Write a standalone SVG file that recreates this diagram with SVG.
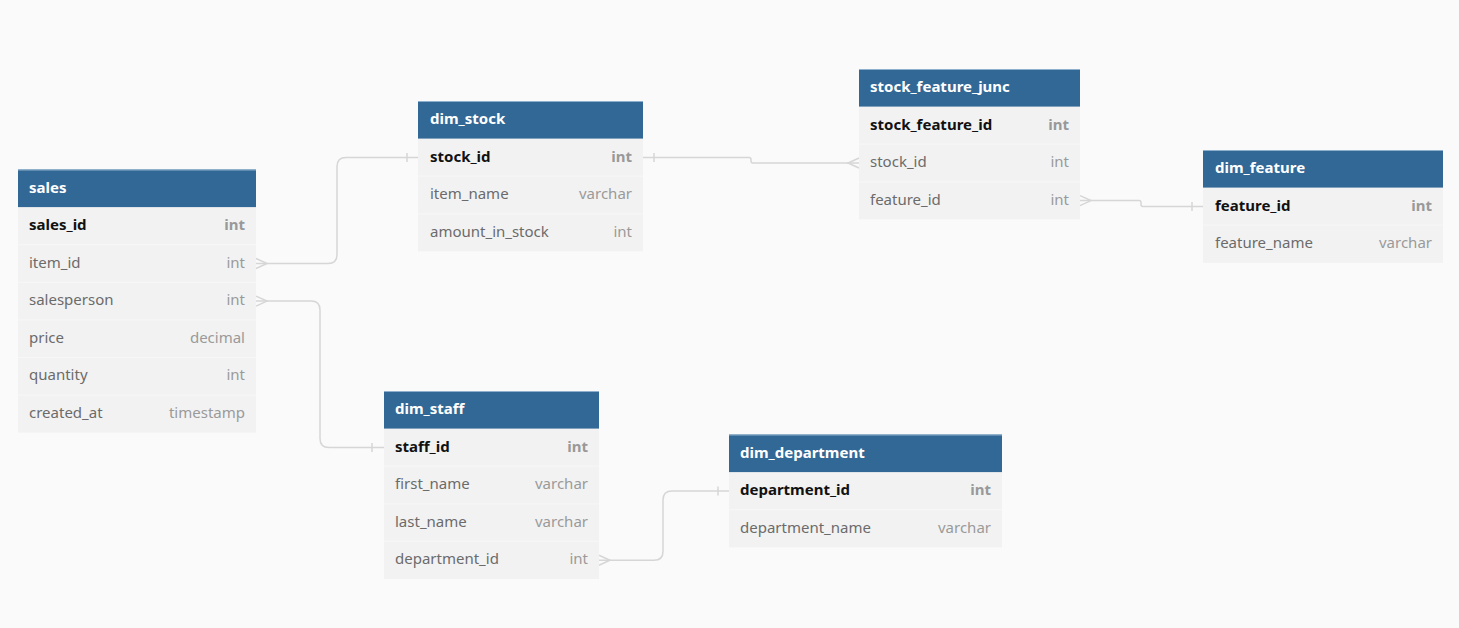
<svg xmlns="http://www.w3.org/2000/svg" width="1459" height="628" viewBox="0 0 1459 628">
<style>
text{font-family:"Noto Sans","Open Sans","DejaVu Sans",sans-serif;font-size:15px}
.hdr{fill:#326896}
.hline{stroke:#8fb0cc;stroke-width:1}
.row{fill:#f2f2f2}
.sep{stroke:#f7f7f7;stroke-width:1}
.title{fill:#ffffff;font-weight:bold}
.pk{fill:#111111;font-weight:bold}
.pkt{fill:#999999;font-weight:bold;text-anchor:end}
.col{fill:#6b6b6b}
.typ{fill:#9a9a9a;text-anchor:end}
.conn{fill:none;stroke:#d6d6d6;stroke-width:1.5}
</style>
<rect width="1459" height="628" fill="#fafafa"/>

<g id="connectors" class="conn">
  <path d="M256,263.5 H328 Q337,263.5 337,254.5 V166.4 Q337,157.4 346,157.4 H418"/>
  <path d="M256,258.5 L267,263.5 L256,268.5"/>
  <path d="M407,153 V162"/>

  <path d="M643,157.4 H749 Q751,157.4 751,159.4 V161 Q751,163 753,163 H859"/>
  <path d="M654,153 V162"/>
  <path d="M859,158 L848,163 L859,168"/>

  <path d="M1080,200.6 H1139 Q1141,200.6 1141,202.6 V204.4 Q1141,206.4 1143,206.4 H1203"/>
  <path d="M1080,195.6 L1091,200.6 L1080,205.6"/>
  <path d="M1192,202 V211"/>

  <path d="M256,301.1 H311 Q320,301.1 320,310.1 V438.4 Q320,447.4 329,447.4 H384"/>
  <path d="M256,296.1 L267,301.1 L256,306.1"/>
  <path d="M372,443 V452"/>

  <path d="M599,560.2 H654 Q663,560.2 663,551.2 V499.9 Q663,490.9 672,490.9 H729"/>
  <path d="M599,555.2 L610,560.2 L599,565.2"/>
  <path d="M718,486.5 V495.5"/>
</g>

<g id="sales">
  <rect class="row" x="18" y="207.1" width="238" height="225.6"/>
  <rect class="hdr" x="18" y="169.5" width="238" height="37.6"/>
  <line class="hline" x1="18" y1="170" x2="256" y2="170"/>
  <line class="sep" x1="18" y1="244.7" x2="256" y2="244.7"/>
  <line class="sep" x1="18" y1="282.3" x2="256" y2="282.3"/>
  <line class="sep" x1="18" y1="319.9" x2="256" y2="319.9"/>
  <line class="sep" x1="18" y1="357.5" x2="256" y2="357.5"/>
  <line class="sep" x1="18" y1="395.1" x2="256" y2="395.1"/>
  <text class="title" x="29" y="192.5">sales</text>
  <text class="pk" x="29" y="230">sales_id</text><text class="pkt" x="245" y="230">int</text>
  <text class="col" x="29" y="267.6">item_id</text><text class="typ" x="245" y="267.6">int</text>
  <text class="col" x="29" y="305.2">salesperson</text><text class="typ" x="245" y="305.2">int</text>
  <text class="col" x="29" y="342.8">price</text><text class="typ" x="245" y="342.8">decimal</text>
  <text class="col" x="29" y="380.4">quantity</text><text class="typ" x="245" y="380.4">int</text>
  <text class="col" x="29" y="418">created_at</text><text class="typ" x="245" y="418">timestamp</text>
</g>

<g id="dim_stock">
  <rect class="row" x="418" y="138.6" width="225" height="112.8"/>
  <rect class="hdr" x="418" y="101" width="225" height="37.6"/>
  <line class="hline" x1="418" y1="101.5" x2="643" y2="101.5"/>
  <line class="sep" x1="418" y1="176.2" x2="643" y2="176.2"/>
  <line class="sep" x1="418" y1="213.8" x2="643" y2="213.8"/>
  <text class="title" x="430" y="124">dim_stock</text>
  <text class="pk" x="430" y="161.5">stock_id</text><text class="pkt" x="632" y="161.5">int</text>
  <text class="col" x="430" y="199.1">item_name</text><text class="typ" x="632" y="199.1">varchar</text>
  <text class="col" x="430" y="236.7">amount_in_stock</text><text class="typ" x="632" y="236.7">int</text>
</g>

<g id="stock_feature_junc">
  <rect class="row" x="859" y="106.6" width="221" height="112.8"/>
  <rect class="hdr" x="859" y="69" width="221" height="37.6"/>
  <line class="hline" x1="859" y1="69.5" x2="1080" y2="69.5"/>
  <line class="sep" x1="859" y1="144.2" x2="1080" y2="144.2"/>
  <line class="sep" x1="859" y1="181.8" x2="1080" y2="181.8"/>
  <text class="title" x="870" y="92">stock_feature_junc</text>
  <text class="pk" x="870" y="129.5">stock_feature_id</text><text class="pkt" x="1069" y="129.5">int</text>
  <text class="col" x="870" y="167.1">stock_id</text><text class="typ" x="1069" y="167.1">int</text>
  <text class="col" x="870" y="204.7">feature_id</text><text class="typ" x="1069" y="204.7">int</text>
</g>

<g id="dim_feature">
  <rect class="row" x="1203" y="187.6" width="240" height="75.2"/>
  <rect class="hdr" x="1203" y="150" width="240" height="37.6"/>
  <line class="hline" x1="1203" y1="150.5" x2="1443" y2="150.5"/>
  <line class="sep" x1="1203" y1="225.2" x2="1443" y2="225.2"/>
  <text class="title" x="1215" y="173">dim_feature</text>
  <text class="pk" x="1215" y="210.5">feature_id</text><text class="pkt" x="1432" y="210.5">int</text>
  <text class="col" x="1215" y="248.1">feature_name</text><text class="typ" x="1432" y="248.1">varchar</text>
</g>

<g id="dim_staff">
  <rect class="row" x="384" y="428.6" width="215" height="150.4"/>
  <rect class="hdr" x="384" y="391" width="215" height="37.6"/>
  <line class="hline" x1="384" y1="391.5" x2="599" y2="391.5"/>
  <line class="sep" x1="384" y1="466.2" x2="599" y2="466.2"/>
  <line class="sep" x1="384" y1="503.8" x2="599" y2="503.8"/>
  <line class="sep" x1="384" y1="541.4" x2="599" y2="541.4"/>
  <text class="title" x="395" y="414">dim_staff</text>
  <text class="pk" x="395" y="451.5">staff_id</text><text class="pkt" x="588" y="451.5">int</text>
  <text class="col" x="395" y="489.1">first_name</text><text class="typ" x="588" y="489.1">varchar</text>
  <text class="col" x="395" y="526.7">last_name</text><text class="typ" x="588" y="526.7">varchar</text>
  <text class="col" x="395" y="564.3">department_id</text><text class="typ" x="588" y="564.3">int</text>
</g>

<g id="dim_department">
  <rect class="row" x="729" y="472.1" width="273" height="75.2"/>
  <rect class="hdr" x="729" y="434.5" width="273" height="37.6"/>
  <line class="hline" x1="729" y1="435" x2="1002" y2="435"/>
  <line class="sep" x1="729" y1="509.7" x2="1002" y2="509.7"/>
  <text class="title" x="740" y="457.5">dim_department</text>
  <text class="pk" x="740" y="495">department_id</text><text class="pkt" x="991" y="495">int</text>
  <text class="col" x="740" y="532.6">department_name</text><text class="typ" x="991" y="532.6">varchar</text>
</g>
</svg>
